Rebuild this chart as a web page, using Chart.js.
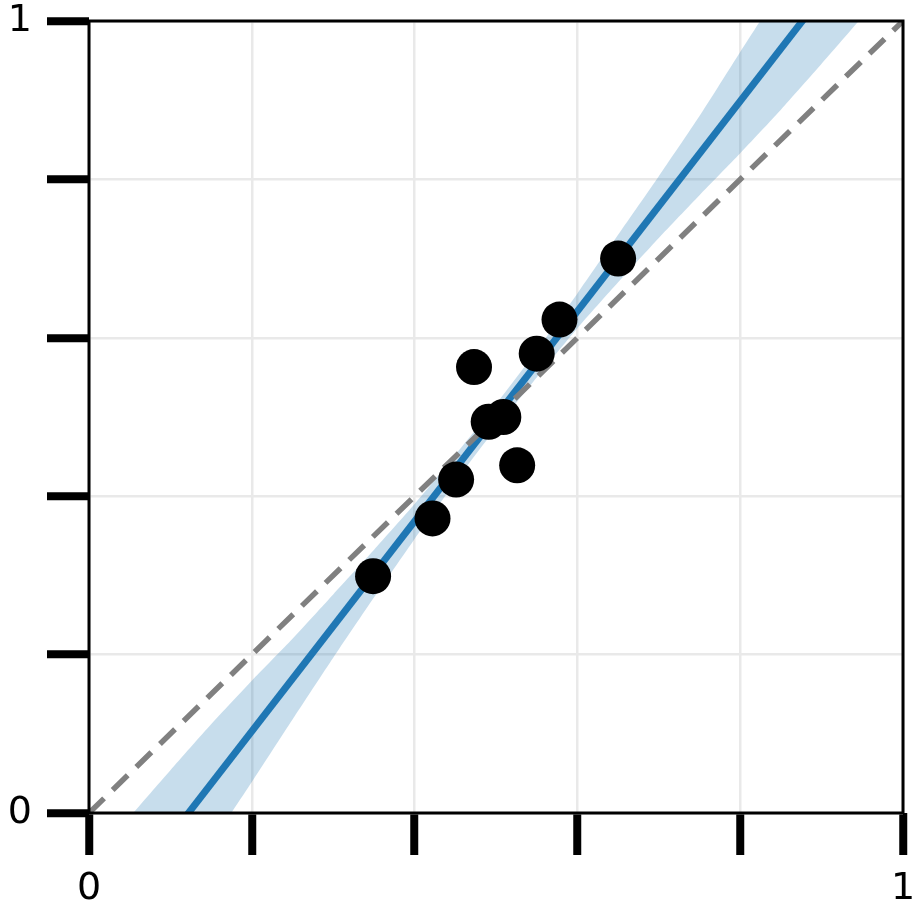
<!DOCTYPE html>
<html>
<head>
<meta charset="utf-8">
<script src="https://cdn.jsdelivr.net/npm/chart.js@4"></script>
<style>
  html, body { margin: 0; padding: 0; background: #ffffff; }
  #wrap { width: 921px; height: 916px; }
</style>
</head>
<body>
<div id="wrap"><canvas id="c" width="921" height="916"></canvas></div>
<script>
// ---- data ----
const pointX = [0.349, 0.422, 0.451, 0.473, 0.491, 0.509, 0.526, 0.550, 0.578, 0.650];
const pointY = [0.299, 0.372, 0.421, 0.563, 0.494, 0.500, 0.439, 0.580, 0.623, 0.700];

const fitX = [0, 1];
const fitY = [-0.162, 1.164];

const bandX     = [0, 0.05, 0.1, 0.15, 0.2, 0.25, 0.3, 0.35, 0.4, 0.45, 0.5, 0.55, 0.6, 0.65, 0.7, 0.75, 0.8, 0.85, 0.9, 0.95, 1.0];
const bandUpper = [-0.062, -0.005, 0.054, 0.112, 0.167, 0.220, 0.276, 0.332, 0.390, 0.452, 0.516, 0.584, 0.656, 0.730, 0.804, 0.880, 0.961, 1.040, 1.114, 1.189, 1.264];
const bandLower = [-0.262, -0.187, -0.112, -0.038, 0.039, 0.118, 0.196, 0.272, 0.346, 0.418, 0.486, 0.550, 0.612, 0.670, 0.726, 0.780, 0.833, 0.888, 0.946, 1.005, 1.062];

const diagX = [0, 1];
const diagY = [0, 1];

const tickValues = [0, 0.2, 0.4, 0.6, 0.8, 1];
const tickLabels = { 0: '0', 1: '1' };

const zip = (xs, ys) => xs.map((x, i) => ({ x: x, y: ys[i] }));

const frame = {
  id: 'frame',
  afterDatasetsDraw(chart) {
    const { ctx, chartArea: a } = chart;
    ctx.save();
    ctx.strokeStyle = '#000000';
    ctx.lineWidth = 3;
    ctx.strokeRect(a.left, a.top, a.right - a.left, a.bottom - a.top);
    ctx.restore();
  }
};

const FONT = { family: 'DejaVu Sans', size: 38, lineHeight: 1.0 };

const noPad = (s) => { s.paddingTop = 0; s.paddingBottom = 0; s.paddingLeft = 0; s.paddingRight = 0; };

const axisCommon = (fitFn) => ({
  type: 'linear',
  min: 0,
  max: 1,
  afterBuildTicks: (s) => { s.ticks = tickValues.map(v => ({ value: v })); },
  afterFit: (s) => { fitFn(s); noPad(s); },
  border: { display: false },
  grid: {
    color: '#e9e9e9',
    lineWidth: 2.5,
    drawTicks: true,
    tickLength: 42,
    tickWidth: 8,
    tickColor: '#000000'
  },
  ticks: {
    color: '#000000',
    font: FONT,
    maxRotation: 0,
    autoSkip: false,
    callback: (v) => (tickLabels[v] !== undefined ? tickLabels[v] : '')
  }
});

const xAxis = axisCommon((s) => { s.height = 103; });
xAxis.position = 'bottom';
xAxis.ticks.padding = 15;
const yAxis = axisCommon((s) => { s.width = 89; });
yAxis.position = 'left';
yAxis.ticks.padding = 15;

new Chart(document.getElementById('c'), {
  type: 'scatter',
  data: {
    datasets: [
      {
        label: 'points',
        data: zip(pointX, pointY),
        backgroundColor: '#000000',
        borderWidth: 0,
        pointRadius: 18,
        pointHoverRadius: 18,
        order: 0
      },
      {
        label: 'identity',
        type: 'line',
        data: zip(diagX, diagY),
        borderColor: '#808080',
        borderWidth: 5.5,
        borderDash: [21, 12],
        pointRadius: 0,
        fill: false,
        clip: 0,
        order: 1
      },
      {
        label: 'fit',
        type: 'line',
        data: zip(fitX, fitY),
        borderColor: '#1f77b4',
        borderWidth: 7,
        pointRadius: 0,
        fill: false,
        clip: 0,
        order: 2
      },
      {
        label: 'upper',
        type: 'line',
        data: zip(bandX, bandUpper),
        borderWidth: 0,
        borderColor: 'rgba(0,0,0,0)',
        backgroundColor: 'rgba(31,119,180,0.25)',
        pointRadius: 0,
        tension: 0.2,
        fill: '+1',
        clip: 0,
        order: 3
      },
      {
        label: 'lower',
        type: 'line',
        data: zip(bandX, bandLower),
        borderWidth: 0,
        borderColor: 'rgba(0,0,0,0)',
        pointRadius: 0,
        tension: 0.2,
        fill: false,
        clip: 0,
        order: 4
      }
    ]
  },
  options: {
    responsive: false,
    animation: false,
    events: [],
    layout: { padding: { top: 21, right: 18, left: 0, bottom: 0 } },
    plugins: {
      legend: { display: false },
      tooltip: { enabled: false },
      title: { display: false }
    },
    scales: { x: xAxis, y: yAxis }
  },
  plugins: [frame]
});
</script>
</body>
</html>
